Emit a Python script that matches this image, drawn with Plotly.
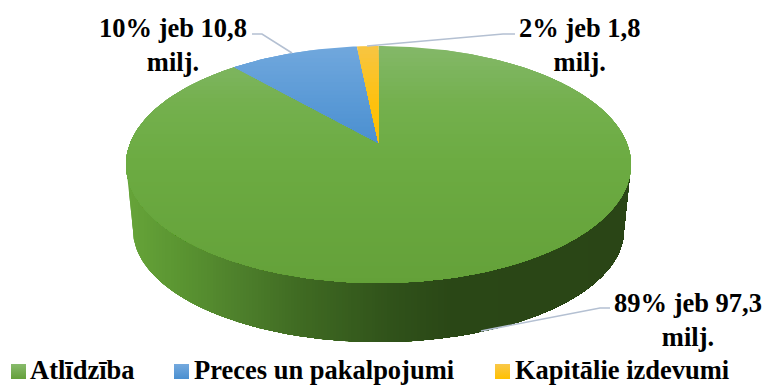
import math
import plotly.graph_objects as go

categories = ["Atlīdzība", "Preces un pakalpojumi", "Kapitālie izdevumi"]
values = [97.3, 10.8, 1.8]
data_labels = ["89% jeb 97,3<br>milj.", "10% jeb 10,8<br>milj.", "2% jeb 1,8<br>milj."]

# ---- styling / layout (not data) ----
W, H = 764, 385
CX, APEX_Y, A, B, K = 378.5, 143.0, 248.3, 114.6, 0.1813
LOW_CY, LOW_A, LOW_B = 230.0, 245.5, 112.0
TOP_GRAD = [
    [(46, "#83b868"), (100, "#74b04e"), (160, "#6cab42"), (283, "#64a139")],
    [(46, "#70a7dd"), (100, "#5a9ad6"), (143, "#4a8fd0")],
    [(46, "#f8c541"), (100, "#fdc10f"), (143, "#ffc000")],
]
WALL_GRAD = [(126, "#66a439"), (180, "#5a9431"), (240, "#4d7f2b"), (300, "#3f6a22"),
             (390, "#30521a"), (450, "#2a4716"), (631, "#2a4516")]
LEG_GRAD = [("#88bb6c", "#64a03a"), ("#74a9de", "#4a8fd0"), ("#f9c84a", "#ffc000")]
LEG_X = [18.5, 181.5, 502.5]
LEG_TX = [28, 192, 513]
LEG_Y = 371.5
LEG_TY = 369.5
LABEL_POS = [(687.5, 320), (173, 45), (579, 45)]
LEADERS = [[(610, 308), (600, 308), (481, 331)],
           [(252, 34), (262, 34), (292, 53)],
           [(515, 34), (503, 34), (367, 46)]]
SERIF = "Liberation Serif"
FS = 26.5


def hex2rgb(h):
    return [int(h[i:i + 2], 16) for i in (1, 3, 5)]


def ramp(stops, t):
    if t <= stops[0][0]:
        return stops[0][1]
    for (a, ca), (b, cb) in zip(stops, stops[1:]):
        if t <= b:
            f = (t - a) / (b - a)
            ra, rb = hex2rgb(ca), hex2rgb(cb)
            return "rgb(%d,%d,%d)" % tuple(round(x + (y - x) * f) for x, y in zip(ra, rb))
    return stops[-1][1]


def project(theta):
    """theta clockwise from 12 o'clock, perspective disc to screen."""
    u, v = math.sin(theta), math.cos(theta)
    w = 1 + K * v
    return CX + A * u / w, APEX_Y - B * v / w


def clip(poly, axis, limit):
    """Keep the part of poly with coordinate[axis] >= limit."""
    out = []
    for i, p in enumerate(poly):
        q = poly[(i + 1) % len(poly)]
        pin, qin = p[axis] >= limit, q[axis] >= limit
        if pin:
            out.append(p)
        if pin != qin:
            f = (limit - p[axis]) / (q[axis] - p[axis])
            out.append((p[0] + (q[0] - p[0]) * f, p[1] + (q[1] - p[1]) * f))
    return out


def fill(fig, poly, color):
    if len(poly) < 3:
        return
    fig.add_trace(go.Scatter(
        x=[p[0] for p in poly] + [poly[0][0]], y=[p[1] for p in poly] + [poly[0][1]],
        mode="lines", fill="toself", fillcolor=color, line=dict(width=0),
        hoverinfo="skip", showlegend=False))


fig = go.Figure()

# side wall: painted left to right so no seams appear
wall = [(CX - LOW_A * math.cos(math.pi * i / 200), LOW_CY + LOW_B * math.sin(math.pi * i / 200))
        for i in range(201)]
wall += [(631, 164.5), (126, 164.5)]
x0 = 126.0
while x0 < 631:
    fill(fig, clip(wall, 0, x0), ramp(WALL_GRAD, x0))
    x0 += 3

# top face sectors from the values, each painted in vertical bands
total = sum(values)
start = 0.0
for val, grad in zip(values, TOP_GRAD):
    sweep = 2 * math.pi * val / total
    n = max(4, int(sweep * 60))
    poly = [(CX, APEX_Y)] + [project(start + sweep * i / n) for i in range(n + 1)]
    ys = [p[1] for p in poly]
    y0 = min(ys)
    while y0 < max(ys):
        fill(fig, clip(poly, 1, y0), ramp(grad, y0))
        y0 += 4
    start += sweep

# leader lines
for pts in LEADERS:
    fig.add_trace(go.Scatter(x=[p[0] for p in pts], y=[p[1] for p in pts], mode="lines",
                             line=dict(color="#b4c0d2", width=1.6),
                             hoverinfo="skip", showlegend=False))

# legend swatches
for lx, (c1, c2) in zip(LEG_X, LEG_GRAD):
    fig.add_trace(go.Scatter(x=[lx], y=[LEG_Y], mode="markers", hoverinfo="skip", showlegend=False,
                             marker=dict(symbol="square", size=15, color=c1, line=dict(width=0),
                                         gradient=dict(type="vertical", color=c2))))

anns = []
for txt, (x, y) in zip(data_labels, LABEL_POS):
    anns.append(dict(x=x, y=y, text=f"<b>{txt}</b>", showarrow=False, xref="x", yref="y",
                     xanchor="center", yanchor="middle", align="center",
                     font=dict(family=SERIF, size=FS, color="#000000")))
for cat, x in zip(categories, LEG_TX):
    anns.append(dict(x=x, y=LEG_TY, text=f"<b>{cat}</b>", showarrow=False, xref="x", yref="y",
                     xanchor="left", yanchor="middle",
                     font=dict(family=SERIF, size=FS, color="#000000")))

fig.update_layout(
    width=W, height=H, margin=dict(l=0, r=0, t=0, b=0),
    paper_bgcolor="white", plot_bgcolor="white", showlegend=False, annotations=anns,
    xaxis=dict(range=[0, W], visible=False, fixedrange=True),
    yaxis=dict(range=[H, 0], visible=False, fixedrange=True),
)
fig.write_html("out.html", config=dict(displayModeBar=False),
               post_script="document.body.style.margin='0';document.body.style.overflow='hidden';")
